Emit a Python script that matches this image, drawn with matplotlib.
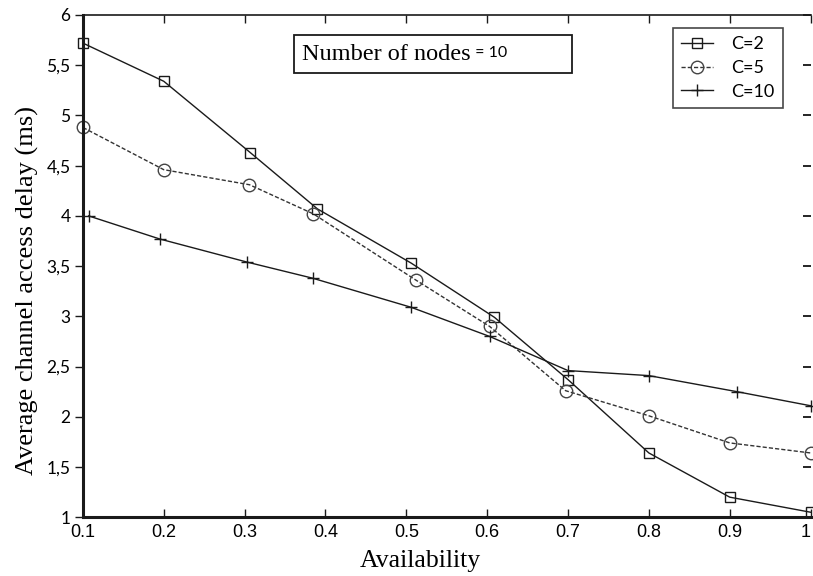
import matplotlib.pyplot as plt
from matplotlib.patches import Rectangle

# data
x_c2 = [0.1, 0.2, 0.307, 0.39, 0.506, 0.609, 0.7, 0.8, 0.9, 1.0]
y_c2 = [5.72, 5.34, 4.63, 4.07, 3.53, 2.99, 2.37, 1.64, 1.20, 1.05]

x_c5 = [0.1, 0.2, 0.306, 0.385, 0.512, 0.603, 0.697, 0.8, 0.9, 1.0]
y_c5 = [4.88, 4.46, 4.31, 4.02, 3.36, 2.90, 2.26, 2.01, 1.74, 1.64]

x_c10 = [0.107, 0.195, 0.303, 0.384, 0.506, 0.603, 0.7, 0.8, 0.909, 1.0]
y_c10 = [4.0, 3.77, 3.54, 3.38, 3.09, 2.80, 2.46, 2.41, 2.25, 2.11]

xticks = [0.1, 0.2, 0.3, 0.4, 0.5, 0.6, 0.7, 0.8, 0.9, 1.0]
xlabels = ["0.1", "0.2", "0.3", "0.4", "0.5", "0.6", "0.7", "0.8", "0.9", "1"]
yticks = [1, 1.5, 2, 2.5, 3, 3.5, 4, 4.5, 5, 5.5, 6]
ylabels = ["1", "1,5", "2", "2,5", "3", "3,5", "4", "4,5", "5", "5,5", "6"]

ink = "#1a1a1a"

fig = plt.figure(figsize=(8.13, 5.76), dpi=100)
ax = fig.add_axes([0.102, 0.102, 0.895, 0.872])

ax.plot(x_c2, y_c2, color=ink, lw=1.0, marker="s", ms=7, mfc="none",
        mec=ink, mew=1.0, label="C=2", clip_on=False)
ax.plot(x_c5, y_c5, color="#333333", lw=1.0, ls=(0, (3, 1.5)), marker="o",
        ms=9, mfc="none", mec="#444444", mew=1.0, label="C=5", clip_on=False)
ax.plot(x_c10, y_c10, color=ink, lw=1.0, marker="+", ms=8, mew=1.0,
        label="C=10", clip_on=False)

ax.set_xlim(0.1, 1.0)
ax.set_ylim(1, 6)
ax.set_xticks(xticks)
ax.set_xticklabels(xlabels, family="Liberation Sans", fontsize=13)
ax.set_yticks(yticks)
ax.set_yticklabels(ylabels, family="Lato", fontsize=12.5)

ax.tick_params(axis="x", direction="in", top=True, length=6, width=1.0,
               color=ink, pad=5)
ax.tick_params(axis="y", direction="out", length=6, width=1.0, color=ink,
               pad=3)
right = ax.secondary_yaxis("right")
right.set_yticks(yticks)
right.tick_params(direction="in", length=6, width=1.2, labelright=False)
right.spines["right"].set_visible(False)

for side, w in [("left", 2.2), ("bottom", 2.2), ("top", 1.2)]:
    ax.spines[side].set_linewidth(w)
    ax.spines[side].set_color(ink)
ax.spines["right"].set_visible(False)

ax.set_xlabel("Availability", family="Liberation Serif", fontsize=18.5)
ax.set_ylabel("Average channel access delay (ms)", family="Liberation Serif",
              fontsize=19)
ax.xaxis.set_label_coords(0.464, -0.066)
ax.yaxis.set_label_coords(-0.06, 0.452)

leg = ax.legend(loc="upper right", bbox_to_anchor=(0.963, 0.951),
                bbox_transform=fig.transFigure, frameon=True, fancybox=False,
                edgecolor=ink, prop={"family": "Lato", "size": 13},
                handlelength=1.8, handletextpad=1.0, borderpad=0.45,
                labelspacing=0.42, borderaxespad=0)
leg.get_frame().set_linewidth(1.2)

# annotation box
fig.patches.append(Rectangle((0.362, 0.873), 0.342, 0.066,
                             transform=fig.transFigure, fill=False,
                             edgecolor=ink, lw=1.3))
t1 = fig.text(0.372, 0.906, "Number of nodes", family="Liberation Serif",
              fontsize=17.5, va="center", color="black")
ax.annotate(" = 10", xy=(1, 0.2), xycoords=t1, va="bottom", ha="left",
            family="Lato", fontsize=11.5, color="black")

# keep the last x label ("1") inside the picture
fig.canvas.draw()
ax.xaxis.get_major_ticks()[-1].label1.set_horizontalalignment("right")

fig.savefig("out.png", dpi=100)
